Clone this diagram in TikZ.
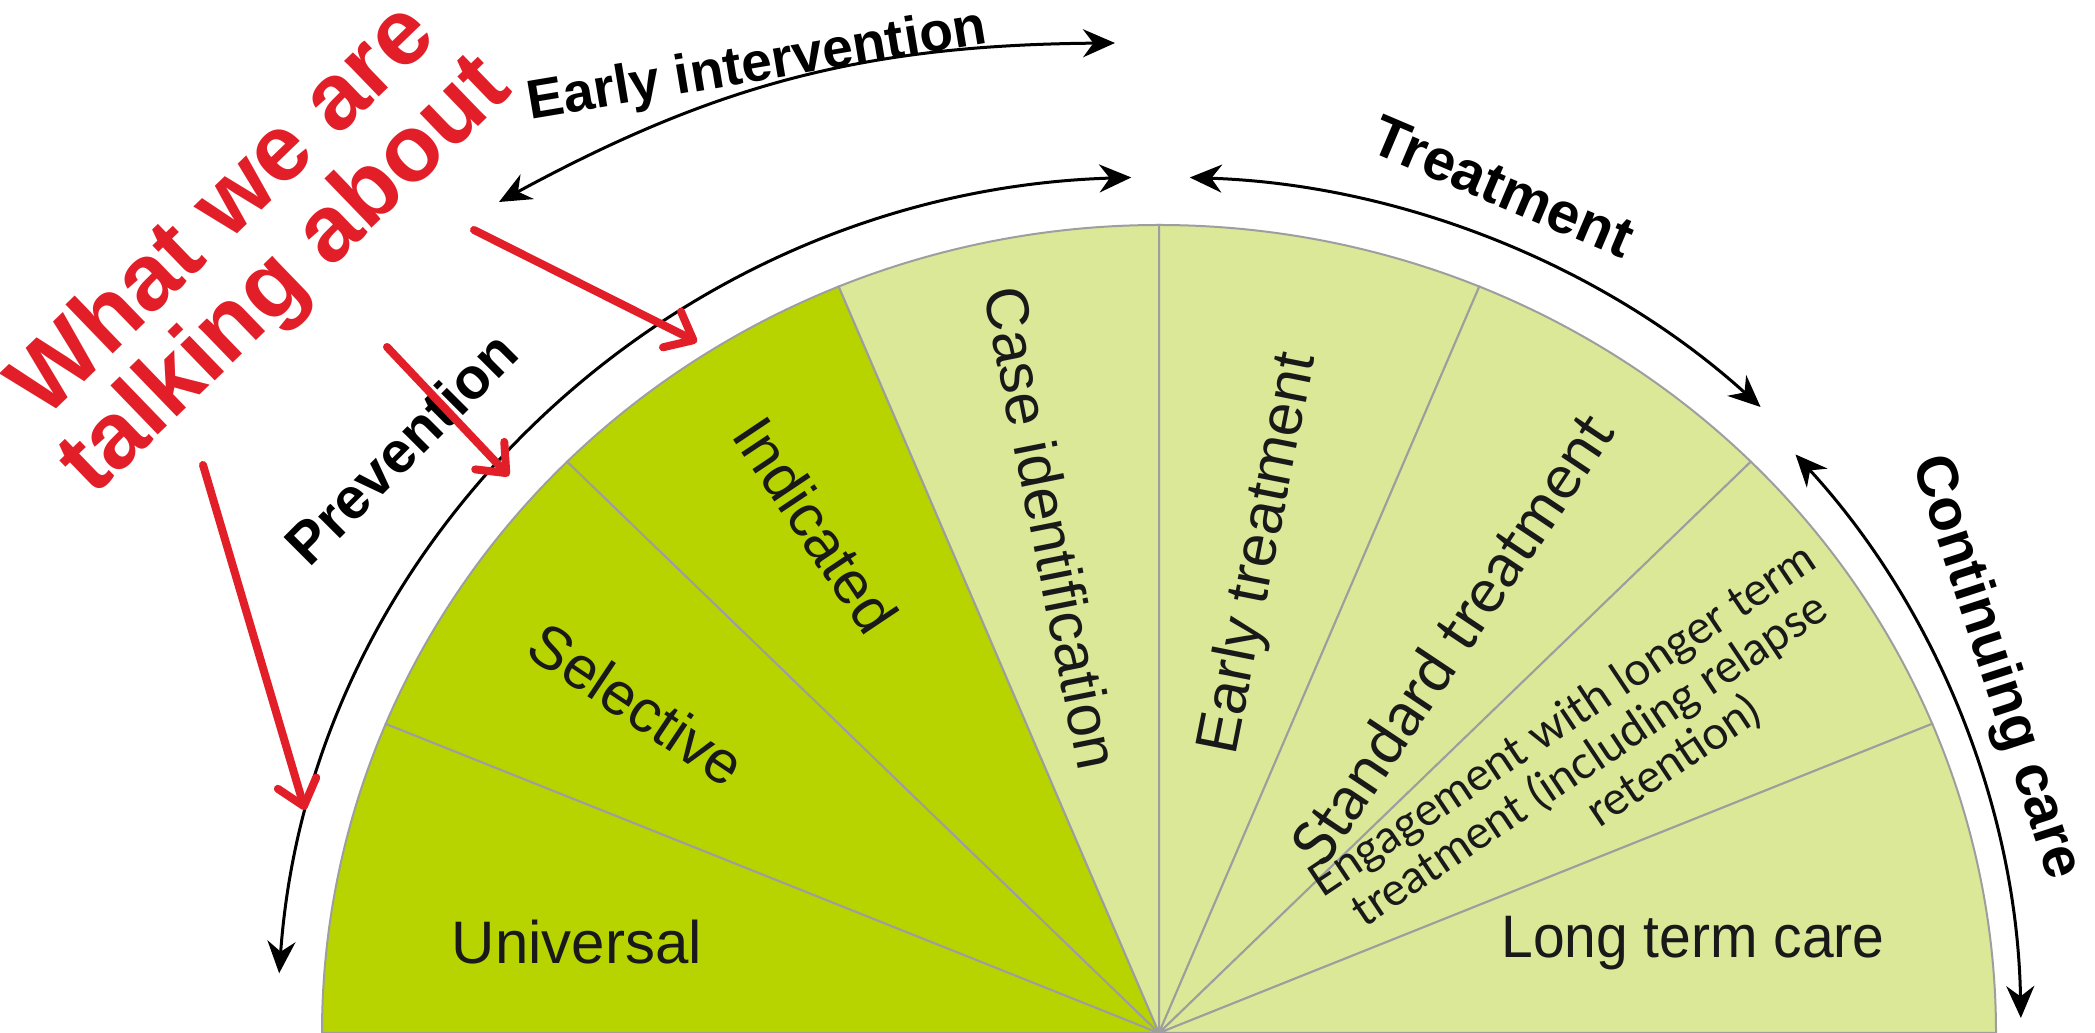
\documentclass[tikz,border=0pt]{standalone}
\usepackage{fontspec}
\setmainfont{Liberation Sans}
\newfontfamily\latofont{Lato}
\usetikzlibrary{arrows.meta}
\definecolor{fandark}{RGB}{183,212,0}
\definecolor{fanlight}{RGB}{218,232,152}
\definecolor{talkred}{RGB}{226,30,40}

\begin{document}
\begin{tikzpicture}[x=0.5pt,y=0.5pt]
		\tikzset{fanline/.style={draw=black!38, line width=1pt}} %wedge borders
		\tikzset{wedgetext/.style={text=black!90, font=\fontsize{30}{34}\selectfont}}
		\tikzset{phase/.style={line width=1.5pt, {Stealth[length=16pt,width=14pt]}-{Stealth[length=16pt,width=14pt]}}}
		\tikzset{phasetext/.style={font=\bfseries\fontsize{29}{32}\selectfont}}
		\tikzset{talkarrow/.style={draw=talkred, line width=4pt, line cap=round, -{Straight Barb[length=12pt,width=20pt,round]}}}
		\useasboundingbox (0,0) rectangle (2095,1033);
		\coordinate (fc) at (1159,0);
		% the fan
		\foreach \a/\col in {180/fandark,157.5/fandark,135/fandark,112.5/fanlight,90/fanlight,67.5/fanlight,45/fanlight,22.5/fanlight}
			\filldraw[fill=\col, fanline] (fc) -- ++(\a:837 and 808) arc[start angle=\a, delta angle=-22.5, x radius=837, y radius=808] -- cycle;
		\node[wedgetext] (universal) at (577,91) {Universal};
		\node[wedgetext, rotate=-33.75] (selective) at (637,329) {Selective};
		\node[wedgetext, rotate=-56.25] (indicated) at (816,508) {Indicated};
		\node[wedgetext, rotate=-78.75] (caseid) at (1052,505) {Case identification};
		\node[wedgetext, rotate=78.75] (earlytreat) at (1260,479) {Early treatment};
		\node[wedgetext, font=\latofont\fontsize{31}{34}\selectfont, rotate=56.25] (standard) at (1452,395) {Standard treatment};
		\node[wedgetext, font=\latofont\fontsize{23}{24}\selectfont, align=center, rotate=33.75] (engage) at (1590,272) {Engagement with longer term\\treatment (including relapse\\\hspace*{3em}retention)};
		\node[wedgetext, xscale=0.95] (longterm) at (1693,90) {Long term care};
		% the phases round it
		\coordinate (eistart) at (499,831);
		\coordinate (eiend) at (1115,990);
		\draw[phase] (eistart) to[bend left=14] (eiend);
		\draw[phase] ([shift={(176:882 and 856)}]fc) arc[start angle=176, end angle=91.8, x radius=882, y radius=856];
		\draw[phase] ([shift={(88:882 and 856)}]fc) arc[start angle=88, end angle=47, x radius=882, y radius=856];
		\draw[phase] ([shift={(42.4:862 and 858)}]fc) arc[start angle=42.4, end angle=1, x radius=862, y radius=858];
		\node[phasetext, font=\bfseries\fontsize{27.5}{32}\selectfont, rotate=9.5] (earlyint) at (757,966) {Early intervention};
		\node[phasetext, rotate=-23] (treatment) at (1503,846) {Treatment};
		\node[phasetext, rotate=45] (prevention) at (401,585) {Prevention};
		\node[phasetext, rotate=-72] (continuing) at (1995,365) {Continuing care};
		% what we are talking about
		\node[text=talkred, font=\bfseries\fontsize{47}{45}\selectfont, align=center, rotate=44] (talk) at (256,788) {What we are\\talking about};
		\coordinate (ta) at (474,803);
		\coordinate (tb) at (387,686);
		\coordinate (tc) at (203,568);
		\coordinate (indtip) at (697,691);
		\coordinate (seltip) at (509,557);
		\coordinate (unitip) at (305,223);
		\draw[talkarrow] (ta) -- (indtip);
		\draw[talkarrow] (tb) -- (seltip);
		\draw[talkarrow] (tc) -- (unitip);
\end{tikzpicture}
\end{document}
